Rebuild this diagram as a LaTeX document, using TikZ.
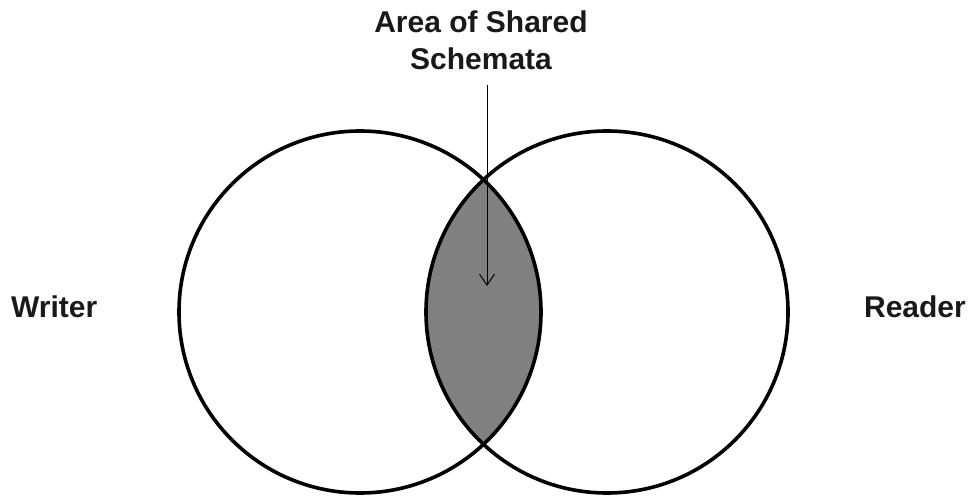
\documentclass[tikz,border=0pt]{standalone}
\usepackage{fontspec}
\setmainfont{Liberation Sans}
\usetikzlibrary{arrows.meta}
\tikzset{
  ring/.style={draw=black, line width=3.6pt},
  lens/.style={fill=black!50},
  lbl/.style={inner sep=0pt, font=\fontsize{30}{37}\selectfont\bfseries, text=black!90},
  pointer/.style={draw=black, line width=1pt, -{Straight Barb[length=11pt,width=15pt,line width=1pt]}}
}
\begin{document}
\begin{tikzpicture}[x=1pt,y=-1pt]
\useasboundingbox (0,0) rectangle (972,497);
\coordinate (wc) at (360,312);
\coordinate (rc) at (607,312);
\begin{scope}
  \clip (wc) circle (181);
  \fill[lens] (rc) circle (181);
\end{scope}
\draw[ring] (wc) circle (181);
\draw[ring] (rc) circle (181);
\node[lbl, anchor=north, align=center] (title) at (481,11) {Area of Shared\\Schemata};
\node[lbl, anchor=base west] (writer) at (11,317) {Writer};
\node[lbl, anchor=base east] (reader) at (966,317) {Reader};
\coordinate (start) at (487,85);
\coordinate (tip) at (487,286);
\draw[pointer] (start) -- (tip);
\end{tikzpicture}
\end{document}
